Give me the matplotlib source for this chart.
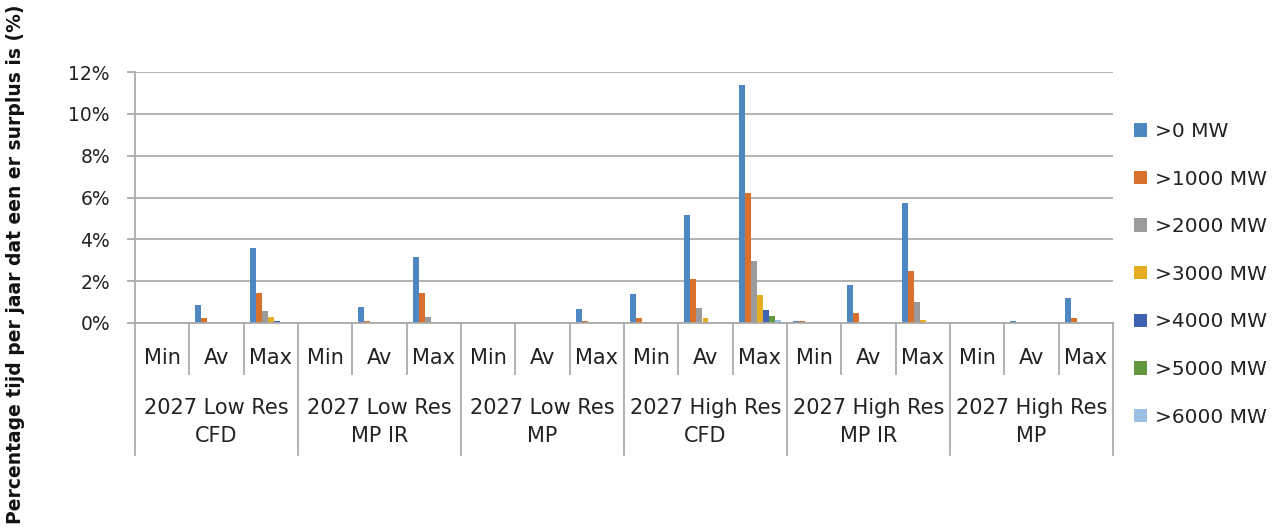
import matplotlib
matplotlib.use("Agg")
import matplotlib.pyplot as plt
import matplotlib.transforms as mtransforms
import numpy as np

groups = ["2027 Low Res\nCFD", "2027 Low Res\nMP IR", "2027 Low Res\nMP",
          "2027 High Res\nCFD", "2027 High Res\nMP IR", "2027 High Res\nMP"]
subcats = ["Min", "Av", "Max"]
series_names = [">0 MW", ">1000 MW", ">2000 MW", ">3000 MW", ">4000 MW", ">5000 MW", ">6000 MW"]
colors = ["#4F87C2", "#D9702C", "#9B9B9B", "#E6AD22", "#3E63B3", "#62993F", "#9CC0E3"]

s0 = [0, 0.88, 3.60, 0, 0.75, 3.15, 0, 0, 0.68, 1.38, 5.17, 11.36, 0.10, 1.84, 5.75, 0, 0.08, 1.21]
s1000 = [0, 0.22, 1.43, 0, 0.10, 1.43, 0, 0, 0.08, 0.22, 2.10, 6.21, 0.10, 0.48, 2.49, 0, 0, 0.22]
s2000 = [0, 0, 0.55, 0, 0, 0.29, 0, 0, 0, 0, 0.73, 2.96, 0, 0, 1.00, 0, 0, 0]
s3000 = [0, 0, 0.29, 0, 0, 0, 0, 0, 0, 0, 0.22, 1.33, 0, 0, 0.14, 0, 0, 0]
s4000 = [0, 0, 0.10, 0, 0, 0, 0, 0, 0, 0, 0, 0.62, 0, 0, 0, 0, 0, 0]
s5000 = [0, 0, 0, 0, 0, 0, 0, 0, 0, 0, 0, 0.35, 0, 0, 0, 0, 0, 0]
s6000 = [0, 0, 0, 0, 0, 0, 0, 0, 0, 0, 0, 0.16, 0, 0, 0, 0, 0, 0]
series = [s0, s1000, s2000, s3000, s4000, s5000, s6000]

yticks = [0, 2, 4, 6, 8, 10, 12]

plt.rcParams['font.family'] = ['DejaVu Sans']
W, H = 1272, 529
fig = plt.figure(figsize=(W / 100, H / 100), dpi=100)
x0, x1, ytop, ybot = 135, 1113, 72, 323
ax = fig.add_axes([x0 / W, (H - ybot) / H, (x1 - x0) / W, (ybot - ytop) / H])

n_cat = len(groups) * len(subcats)
x = np.arange(n_cat)
bw = 0.112
n_s = len(series)
for i, (vals, name, c) in enumerate(zip(series, series_names, colors)):
    off = (i - (n_s - 1) / 2) * bw
    ax.bar(x + off, vals, width=bw * 0.98, color=c, label=name, linewidth=0)

ax.set_xlim(-0.5, n_cat - 0.5)
ax.set_ylim(0, 12)
ax.set_yticks(yticks)
ax.set_yticklabels([f"{v}%" for v in yticks], fontsize=13.5, color="#222222")
ax.set_xticks([])
gc = "#ababab"
ax.grid(axis='y', color=gc, linewidth=1.3)
ax.set_axisbelow(True)
for sp in ['top', 'right']:
    ax.spines[sp].set_visible(False)
ax.spines['left'].set_color(gc)
ax.spines['bottom'].set_color(gc)
ax.spines['left'].set_linewidth(1.3)
ax.spines['bottom'].set_linewidth(1.3)
ax.tick_params(axis='y', length=6, width=1.3, color=gc, pad=12)

# Multi-level category axis
axh = ybot - ytop
def fy(p):
    return -(p - ybot) / axh
trans = mtransforms.blended_transform_factory(ax.transData, ax.transAxes)
for k in range(n_cat + 1):
    xb = k - 0.5
    if k % 3 == 0:
        yend = fy(455)
    else:
        yend = fy(374)
    ax.plot([xb, xb], [0, yend], transform=trans, color=gc, lw=1.3, clip_on=False)
for k in range(n_cat):
    ax.text(k, fy(358), subcats[k % 3], transform=trans, ha='center', va='center',
            fontsize=15, color="#222222")
for g, name in enumerate(groups):
    ax.text(3 * g + 1, fy(422), name, transform=trans, ha='center', va='center',
            fontsize=15, color="#222222", linespacing=1.5)

fig.text(16 / W, 0.5, "Percentage tijd per jaar dat een er surplus is (%)", rotation=90,
         ha='center', va='center', fontsize=13.5, fontweight='bold', color="#111111")

leg = fig.legend(loc='upper left', bbox_to_anchor=(1126 / W, 1 - 114 / H), frameon=False,
                 fontsize=14.5, handlelength=0.65, handleheight=0.65, handletextpad=0.4,
                 labelspacing=1.42, borderaxespad=0)
for t in leg.get_texts():
    t.set_color("#222222")

fig.savefig("out.png", dpi=100, facecolor='white')
